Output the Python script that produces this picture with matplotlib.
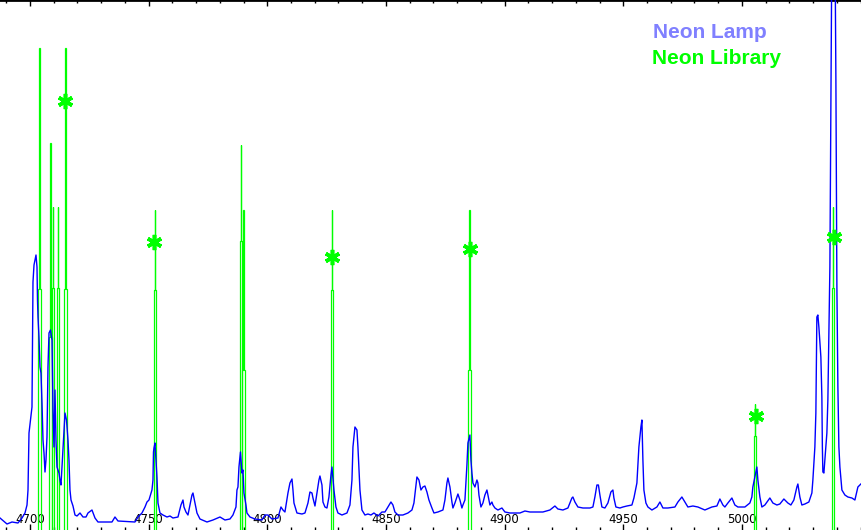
import numpy as np
import matplotlib
matplotlib.use("Agg")
import matplotlib.pyplot as plt
from matplotlib.ticker import FixedLocator

# ---------------- data ----------------
lamp_wl = [4687.36, 4690.31, 4692.42, 4694.94, 4696.63, 4697.89, 4698.74, 4699.16, 4699.58, 4700.84,
           4701.05, 4701.26, 4701.69, 4702.53, 4702.95, 4703.16, 4703.37, 4703.79, 4704.21, 4704.63,
           4705.06, 4705.48, 4705.90, 4706.32, 4706.74, 4707.16, 4707.58, 4708.01, 4708.64, 4709.27,
           4709.69, 4710.11, 4710.53, 4710.95, 4711.38, 4712.22, 4712.64, 4713.06, 4713.48, 4713.90,
           4714.75, 4715.38, 4716.01, 4716.43, 4716.85, 4717.28, 4718.12, 4718.96, 4719.80, 4721.07,
           4722.33, 4723.60, 4724.44, 4726.12, 4727.39, 4728.65, 4734.55, 4735.81, 4737.08, 4744.24,
           4745.51, 4747.19, 4748.46, 4749.30, 4750.14, 4751.40, 4751.83, 4752.04, 4752.25, 4752.67,
           4753.51, 4753.93, 4754.78, 4756.04, 4757.72, 4758.99, 4760.25, 4762.36, 4763.62, 4764.47,
           4764.89, 4765.73, 4766.57, 4767.42, 4768.26, 4768.68, 4769.52, 4770.37, 4771.63, 4774.58,
           4777.11, 4780.06, 4782.16, 4784.27, 4785.53, 4786.80, 4787.22, 4787.64, 4788.06, 4788.69,
           4789.33, 4789.75, 4790.17, 4791.01, 4791.43, 4792.70, 4794.80, 4797.75, 4799.02, 4800.28,
           4801.97, 4804.49, 4805.76, 4806.60, 4807.44, 4808.71, 4809.55, 4810.40, 4810.82, 4811.24,
           4812.50, 4814.61, 4815.87, 4817.14, 4817.98, 4818.83, 4819.25, 4820.09, 4820.93, 4821.77,
           4822.19, 4823.04, 4823.46, 4824.30, 4825.14, 4825.98, 4826.83, 4827.25, 4828.09, 4828.93,
           4829.78, 4831.46, 4833.57, 4834.83, 4835.68, 4836.10, 4836.94, 4837.78, 4838.20, 4839.05,
           4839.89, 4841.15, 4842.42, 4843.68, 4844.94, 4846.63, 4848.32, 4849.58, 4850.84, 4852.11,
           4852.95, 4853.79, 4855.06, 4857.16, 4859.27, 4860.96, 4861.80, 4862.64, 4863.06, 4863.91,
           4864.75, 4865.59, 4866.43, 4867.28, 4868.12, 4869.38, 4870.23, 4871.91, 4874.02, 4874.86,
           4875.70, 4876.12, 4876.97, 4877.81, 4878.23, 4879.07, 4879.92, 4880.34, 4881.18, 4882.02,
           4882.44, 4883.29, 4884.13, 4884.55, 4885.39, 4885.81, 4886.24, 4886.66, 4887.50, 4888.34,
           4888.76, 4889.19, 4890.03, 4890.87, 4891.71, 4892.56, 4892.98, 4893.82, 4894.66, 4895.09,
           4895.93, 4897.19, 4898.88, 4900.14, 4902.25, 4906.46, 4908.57, 4910.68, 4913.62, 4916.15,
           4919.10, 4921.21, 4922.47, 4924.58, 4926.69, 4928.37, 4928.79, 4929.64, 4930.90, 4933.01,
           4935.96, 4937.22, 4938.06, 4938.91, 4939.54, 4940.17, 4941.01, 4942.28, 4943.54, 4944.80,
           4945.65, 4946.07, 4946.91, 4948.60, 4949.86, 4951.55, 4953.66, 4954.50, 4955.76, 4956.60,
           4957.45, 4957.87, 4958.29, 4958.71, 4959.56, 4960.40, 4962.09, 4964.19, 4965.46, 4966.72,
           4968.83, 4971.78, 4973.04, 4974.72, 4975.99, 4977.25, 4979.36, 4981.47, 4984.41, 4987.36,
           4989.47, 4990.73, 4992.00, 4992.84, 4994.10, 4995.79, 4997.05, 4998.32, 5001.27, 5003.37,
           5004.21, 5004.63, 5005.48, 5006.32, 5006.74, 5007.59, 5008.43, 5009.69, 5011.80, 5013.06,
           5014.75, 5016.01, 5017.70, 5019.38, 5020.65, 5021.91, 5023.18, 5023.60, 5024.44, 5025.28,
           5026.55, 5028.23, 5029.50, 5029.92, 5030.76, 5031.18, 5031.60, 5032.02, 5032.45, 5033.29,
           5033.71, 5033.92, 5034.13, 5034.56, 5034.98, 5035.82, 5036.24, 5036.67, 5037.09, 5038.56,
           5039.62, 5040.04, 5040.46, 5040.88, 5041.31, 5042.15, 5043.41, 5044.68, 5046.37, 5047.63,
           5048.89, 5050.15]
lamp_int = [12, 6, 8, 7, 12, 17, 25, 40, 97, 123,
            190, 248, 265, 275, 263, 230, 213, 193, 163, 157,
            127, 90, 77, 58, 70, 93, 163, 197, 200, 190,
            120, 83, 140, 90, 63, 57, 50, 45, 63, 83,
            117, 110, 90, 70, 40, 30, 24, 15, 14, 17,
            13, 13, 17, 20, 12, 8, 8, 13, 9, 8,
            13, 17, 23, 28, 30, 40, 50, 78, 82, 87,
            53, 27, 17, 15, 13, 14, 12, 13, 25, 30,
            23, 18, 15, 25, 35, 37, 27, 17, 11, 8,
            10, 13, 10, 11, 15, 23, 40, 43, 63, 78,
            57, 60, 37, 25, 17, 13, 11, 10, 15, 15,
            11, 12, 23, 20, 18, 37, 47, 51, 40, 27,
            17, 16, 17, 27, 38, 37, 32, 24, 37, 50,
            54, 45, 28, 23, 22, 33, 55, 63, 40, 23,
            17, 15, 17, 25, 50, 83, 103, 100, 83, 40,
            20, 15, 16, 15, 17, 14, 18, 18, 23, 28,
            25, 18, 15, 15, 17, 20, 27, 45, 53, 50,
            40, 43, 44, 38, 30, 22, 17, 18, 20, 30,
            47, 52, 43, 28, 22, 27, 33, 36, 30, 22,
            25, 30, 65, 87, 95, 70, 57, 47, 43, 50,
            47, 35, 23, 27, 35, 40, 35, 25, 28, 25,
            22, 20, 22, 18, 17, 17, 19, 18, 18, 18,
            20, 24, 21, 20, 22, 32, 33, 28, 23, 22,
            22, 23, 33, 45, 45, 35, 23, 22, 27, 38,
            40, 32, 23, 22, 23, 24, 25, 32, 47, 83,
            103, 110, 70, 40, 27, 23, 20, 23, 28, 22,
            22, 23, 28, 33, 28, 23, 24, 23, 20, 23,
            24, 31, 25, 23, 27, 32, 25, 23, 23, 27,
            33, 43, 53, 63, 50, 33, 23, 25, 32, 27,
            25, 26, 31, 27, 25, 30, 43, 46, 33, 25,
            26, 28, 37, 50, 83, 117, 213, 215, 203, 173,
            133, 83, 58, 57, 70, 97, 130, 197, 263, 830,
            450, 243, 143, 83, 63, 40, 35, 33, 32, 30,
            43, 46]

library_wl = [4704.1, 4708.6, 4709.7, 4711.8, 4714.9, 4752.7, 4788.9, 4790.0,
              4827.2, 4885.3, 5005.5, 5038.4]
library_int = [482, 387, 323, 323, 482, 320, 385, 320, 320, 320, 126, 323]

match_wl = [4714.75, 4752.25, 4827.25, 4885.39, 5005.9, 5038.8]
match_int = [429, 288, 273, 281, 114, 293]

major_ticks = [4700, 4750, 4800, 4850, 4900, 4950, 5000]
minor_ticks = [4690, 4710, 4720, 4730, 4740, 4760, 4770, 4780, 4790, 4810, 4820, 4830,
               4840, 4860, 4870, 4880, 4890, 4910, 4920, 4930, 4940, 4960, 4970, 4980,
               4990, 5010, 5020, 5030, 5040, 5050]
legend_labels = ["Neon Lamp", "Neon Library"]

# ---------------- style ----------------
BLUE = "#0000ff"
GREEN = "#00ff00"
LAMP_TEXT = "#8080ff"
STEM_OFFS = np.array([-0.525, -0.525, -0.315, -0.315, -0.105, -0.105,
                      0.105, 0.105, 0.315, 0.315, 0.525, 0.525])
STEM_FRAC = np.array([0.0, 0.5, 0.5, 0.75, 0.75, 1.0,
                      1.0, 0.75, 0.75, 0.5, 0.5, 0.0])

fig = plt.figure(figsize=(8.61, 5.30), dpi=100)
ax = fig.add_axes([0, 0, 1, 1])
ax.set_xlim(4687.36, 5050.2)
ax.set_ylim(0, 530)

for w, h in zip(library_wl, library_int):
    ax.plot(w + STEM_OFFS, h * STEM_FRAC, color=GREEN, lw=0.9, zorder=2,
            solid_joinstyle="miter")

ax.plot(lamp_wl, lamp_int, color=BLUE, lw=1.0, zorder=3)

ax.plot(match_wl, match_int, linestyle="none", marker=(6, 2, 0), markersize=11,
        markeredgewidth=2.6, color=GREEN, zorder=4)

for s in ["left", "right", "bottom"]:
    ax.spines[s].set_visible(False)
ax.spines["top"].set_linewidth(2.0)
ax.spines["top"].set_color("black")

ax.xaxis.set_major_locator(FixedLocator(major_ticks))
ax.xaxis.set_minor_locator(FixedLocator(minor_ticks))
ax.set_xticklabels([str(t) for t in major_ticks])
ax.tick_params(axis="x", which="both", direction="in", top=True, bottom=True,
               labelsize=8.5, pad=-12, width=1.0, color="black")
ax.tick_params(axis="x", which="major", length=4)
ax.tick_params(axis="x", which="minor", length=2.5)
ax.set_yticks([])

fig.text(653 / 861, 1 - 38 / 530, legend_labels[0], color=LAMP_TEXT,
         fontsize=15, fontweight="bold", family="Liberation Sans", va="baseline", ha="left")
fig.text(652 / 861, 1 - 64 / 530, legend_labels[1], color=GREEN,
         fontsize=15, fontweight="bold", family="Liberation Sans", va="baseline", ha="left")

fig.savefig("out.png", dpi=100)
